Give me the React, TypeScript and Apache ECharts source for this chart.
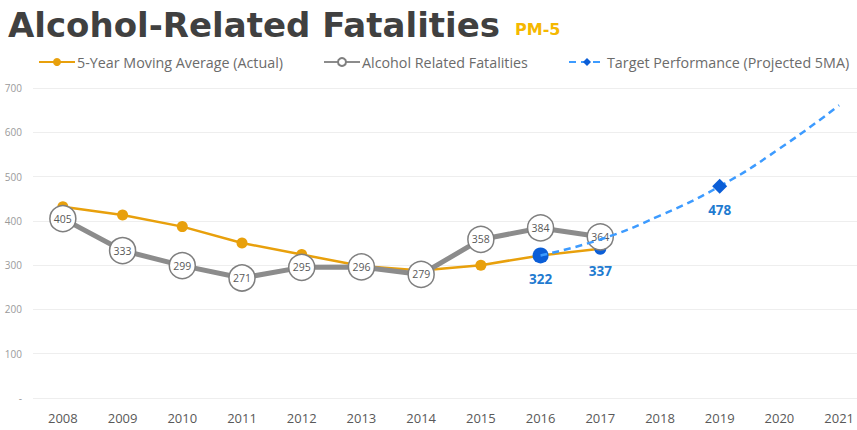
import React, { useEffect, useRef } from "react";
import * as echarts from "echarts";

const years = ["2008", "2009", "2010", "2011", "2012", "2013", "2014", "2015", "2016", "2017", "2018", "2019", "2020", "2021"];
const movingAvg = [432, 413, 387, 350, 324, 298, 288, 300, 322, 337];
const fatalities = [405, 333, 299, 271, 295, 296, 279, 358, 384, 364];
const target = [null, null, null, null, null, null, null, null, 322, 358, 412, 478, 563, 661];
const yTicks = [0, 100, 200, 300, 400, 500, 600, 700];
const legendNames = ["5-Year Moving Average (Actual)", "Alcohol Related Fatalities", "Target Performance (Projected 5MA)"];

const BLUE_DARK = "#0B5ED7";
const BLUE_LABEL = "#1F7BD0";
const ORANGE = "#E8A00C";

export default function App() {
  const ref = useRef<HTMLDivElement>(null);
  useEffect(() => {
    const chart = echarts.init(ref.current!, null, { renderer: "svg" });
    const blueLabel = {
      show: true,
      position: "bottom",
      distance: 9,
      color: BLUE_LABEL,
      fontWeight: "bold",
      fontSize: 13.5,
      fontFamily: "Open Sans",
    };
    const avgData = movingAvg.map((v, i) => {
      if (i === 8 || i === 9) {
        return {
          value: v,
          symbolSize: i === 8 ? 16 : 12,
          itemStyle: { color: BLUE_DARK },
          label: blueLabel,
        };
      }
      return v;
    });
    const targetData = target.map((v, i) => {
      if (i === 11) {
        return {
          value: v,
          symbolSize: 15,
          itemStyle: { color: BLUE_DARK },
          label: blueLabel,
        };
      }
      return { value: v, symbolSize: 0 };
    });
    const legendLefts = [33, 318, 563];
    chart.setOption({
      animation: false,
      backgroundColor: "#ffffff",
      title: {
        left: 3,
        top: 0,
        text: "{a|Alcohol-Related Fatalities}   {b|PM-5}",
        textStyle: {
          rich: {
            a: { fontFamily: "DejaVu Sans", fontWeight: "bold", fontSize: 34, color: "#404040", lineHeight: 40 },
            b: { fontFamily: "DejaVu Sans", fontWeight: "bold", fontSize: 16, color: "#F5B800", lineHeight: 40, padding: [8, 0, 0, 0] },
          },
        },
      },
      legend: legendNames.map((n, i) => ({
        top: 50,
        left: legendLefts[i],
        itemWidth: 36,
        itemHeight: 10,
        textStyle: { fontFamily: "Open Sans", fontSize: 14.3, color: "#6B6B6B", padding: [0, 0, 0, -3] },
        data: [{ name: n }],
      })),
      grid: { left: 33, right: -12, top: 88, bottom: 32, outerBoundsMode: "none", containLabel: false },
      xAxis: {
        type: "category",
        data: years,
        boundaryGap: true,
        axisLine: { show: false },
        axisTick: { show: false },
        axisLabel: { color: "#595959", fontSize: 13, fontFamily: "Open Sans", margin: 13 },
      },
      yAxis: {
        type: "value",
        min: yTicks[0],
        max: yTicks[yTicks.length - 1],
        interval: 100,
        axisLine: { show: false },
        axisTick: { show: false },
        splitLine: { lineStyle: { color: "#EEEEEE", width: 1 } },
        axisLabel: {
          color: "#9A9A9A",
          fontSize: 10,
          fontFamily: "Open Sans",
          margin: 11,
          formatter: (v: number) => (v === 0 ? "-" : String(v)),
        },
      },
      series: [
        {
          name: legendNames[1],
          type: "line",
          data: fatalities,
          z: 3,
          symbol: "circle",
          symbolSize: 26,
          lineStyle: { color: "#8C8C8C", width: 5 },
          itemStyle: { color: "#ffffff", borderColor: "#7F7F7F", borderWidth: 1.5 },
          label: {
            show: true,
            position: "inside",
            color: "#595959",
            fontSize: 10.5,
            fontFamily: "Open Sans",
          },
        },
        {
          name: legendNames[0],
          type: "line",
          data: avgData,
          z: 2,
          symbol: "circle",
          symbolSize: 11,
          lineStyle: { color: ORANGE, width: 2.5 },
          itemStyle: { color: ORANGE },
        },
        {
          name: legendNames[2],
          type: "line",
          data: targetData,
          z: 4,
          smooth: true,
          symbol: "diamond",
          connectNulls: false,
          lineStyle: { color: "#3D9BFF", width: 2.5, type: [7, 5] },
          itemStyle: { color: BLUE_DARK },
        },
      ],
    });
    return () => chart.dispose();
  }, []);
  return <div ref={ref} style={{ position: "absolute", left: 0, top: 0, width: 857, height: 430 }} />;
}
